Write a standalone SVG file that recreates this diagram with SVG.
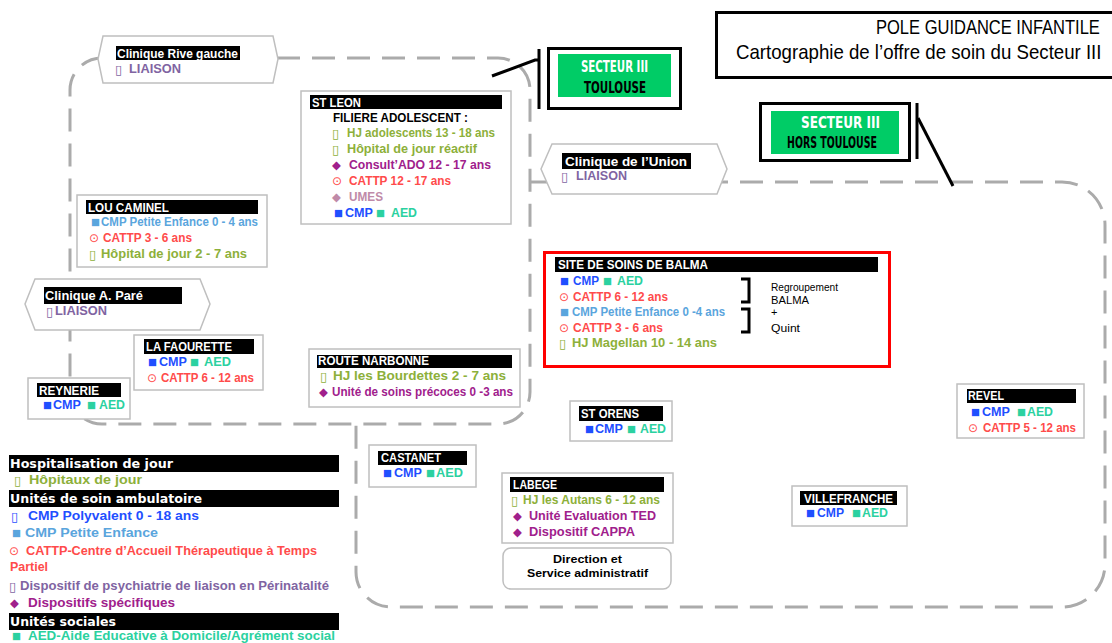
<svg xmlns="http://www.w3.org/2000/svg" width="1112" height="643" viewBox="0 0 1112 643">
<style>
.reg{fill:none;stroke:#ABABAB;stroke-width:3;stroke-dasharray:23 12}
.box{fill:#fff;stroke:#BFBFBF;stroke-width:1.5}
.hex{fill:#fff;stroke:#BFBFBF;stroke-width:1.5}
.hdr{fill:#000}
.conn{fill:none;stroke:#000;stroke-width:3}
text{font-family:"Liberation Sans",Arial,sans-serif;font-weight:bold;font-size:12px}
.ht{fill:#fff;font-size:12.5px}
.sq,.di,.ci,.tf{font-family:"DejaVu Sans",sans-serif;font-weight:normal}
.sq{font-size:9.5px}.di{font-size:11.5px}.ci{font-size:12px}.tf{font-size:13px}
.cmp{fill:#1F4FFF}.aed{fill:#2BD1A0}.pe{fill:#5AA5DD}.cat{fill:#FF4B4B}.hj{fill:#8DB03A}.dis{fill:#A0208C}.lia{fill:#8064A2}.umes{fill:#C08AA8}
.lg{font-size:13px}
.lh{font-family:"DejaVu Sans",sans-serif;font-size:13px;fill:#fff}
.nar{font-family:"Liberation Sans Narrow","DejaVu Sans Condensed",sans-serif;font-size:15px}
.ttl{font-weight:normal;font-size:20px}
.sm{font-weight:normal;font-size:11px}
</style>

<g id="regions">
<rect class="reg" x="70" y="58" width="460" height="366" rx="32"/>
<path class="reg" d="M530 182 H1062 A43 43 0 0 1 1105 225 V564 A43 43 0 0 1 1062 607 H391 A35 35 0 0 1 356 572 V425"/>
</g>

<g id="connectors">
<path class="conn" d="M492 76 L535 60 H540"/>
<path class="conn" d="M539 49 V109"/>
<path class="conn" d="M917 103 V159"/>
<path class="conn" d="M918 118 L953 186"/>
</g>

<g id="title">
<rect x="716.5" y="12.5" width="420" height="65" fill="#fff" stroke="#000" stroke-width="3"/>
<text class="ttl" transform="matrix(0.82 0 0 1 876 34)" x="0" y="0" textLength="273" lengthAdjust="spacingAndGlyphs">POLE GUIDANCE INFANTILE</text>
<text class="ttl" transform="matrix(0.93 0 0 1 736 59)" x="0" y="0" textLength="393" lengthAdjust="spacingAndGlyphs">Cartographie de l’offre de soin du Secteur III</text>
</g>

<g id="secteur-toulouse">
<rect x="548.5" y="48.5" width="132" height="60" fill="#fff" stroke="#000" stroke-width="3"/>
<rect x="558" y="54" width="113" height="43" fill="#00CC66"/>
<text class="nar ht" x="581" y="72" textLength="67" lengthAdjust="spacingAndGlyphs">SECTEUR III</text>
<text class="nar" x="584" y="93" textLength="62" lengthAdjust="spacingAndGlyphs">TOULOUSE</text>
</g>

<g id="secteur-hors-toulouse">
<rect x="760.5" y="103.5" width="149" height="57" fill="#fff" stroke="#000" stroke-width="3"/>
<rect x="771" y="111" width="128" height="43" fill="#00CC66"/>
<text class="nar ht" x="801" y="128" textLength="79" lengthAdjust="spacingAndGlyphs">SECTEUR III</text>
<text class="nar" x="787" y="148" textLength="90" lengthAdjust="spacingAndGlyphs">HORS TOULOUSE</text>
</g>

<g id="clinique-rive-gauche">
<polygon class="hex" points="103,36 273,36 278,59 273,83 103,83 98,59"/>
<rect class="hdr" x="116" y="46" width="124" height="14"/>
<text class="ht" x="117" y="58" textLength="121" lengthAdjust="spacingAndGlyphs">Clinique Rive gauche</text>
<text class="tf lia" x="115" y="74">▯</text>
<text class="lia" x="129" y="73" textLength="52" lengthAdjust="spacingAndGlyphs">LIAISON</text>
</g>

<g id="st-leon">
<rect class="box" x="301" y="91" width="210" height="133"/>
<rect class="hdr" x="310" y="95" width="192" height="14"/>
<text class="ht" x="312" y="107" textLength="49" lengthAdjust="spacingAndGlyphs">ST LEON</text>
<text x="333" y="122" textLength="135" lengthAdjust="spacingAndGlyphs">FILIERE ADOLESCENT :</text>
<text class="tf hj" x="332" y="138">▯</text>
<text class="hj" x="347" y="137" textLength="148" lengthAdjust="spacingAndGlyphs">HJ adolescents 13 - 18 ans</text>
<text class="tf hj" x="332" y="154">▯</text>
<text class="hj" x="347" y="153" textLength="130" lengthAdjust="spacingAndGlyphs">Hôpital de jour réactif</text>
<text class="di dis" x="332" y="169">◆</text>
<text class="dis" x="349" y="169" textLength="142" lengthAdjust="spacingAndGlyphs">Consult’ADO 12 - 17 ans</text>
<text class="ci cat" x="332" y="185">⊙</text>
<text class="cat" x="349" y="185" textLength="102" lengthAdjust="spacingAndGlyphs">CATTP 12 - 17 ans</text>
<text class="di umes" x="332" y="201">◆</text>
<text class="umes" x="349" y="201" textLength="34" lengthAdjust="spacingAndGlyphs">UMES</text>
<text class="sq cmp" x="334" y="216">■</text>
<text class="cmp" x="345" y="217" textLength="28" lengthAdjust="spacingAndGlyphs">CMP</text>
<text class="sq aed" x="376" y="216">■</text>
<text class="aed" x="391" y="217" textLength="26" lengthAdjust="spacingAndGlyphs">AED</text>
</g>

<g id="clinique-union">
<polygon class="hex" points="552,144 717,144 727,169 717,194 552,194 541,169"/>
<rect class="hdr" x="562" y="153" width="129" height="16"/>
<text class="ht" x="565" y="166" textLength="122" lengthAdjust="spacingAndGlyphs">Clinique de l’Union</text>
<text class="tf lia" x="561" y="181">▯</text>
<text class="lia" x="576" y="180" textLength="51" lengthAdjust="spacingAndGlyphs">LIAISON</text>
</g>

<g id="lou-caminel">
<rect class="box" x="77" y="195" width="190" height="72"/>
<rect class="hdr" x="86" y="200" width="172" height="14"/>
<text class="ht" x="88" y="212" textLength="81" lengthAdjust="spacingAndGlyphs">LOU CAMINEL</text>
<text class="sq pe" x="91" y="225">■</text>
<text class="pe" x="101" y="226" textLength="157" lengthAdjust="spacingAndGlyphs">CMP Petite Enfance 0 - 4 ans</text>
<text class="ci cat" x="89" y="242">⊙</text>
<text class="cat" x="103" y="242" textLength="89" lengthAdjust="spacingAndGlyphs">CATTP 3 - 6 ans</text>
<text class="tf hj" x="89" y="259">▯</text>
<text class="hj" x="101" y="258" textLength="146" lengthAdjust="spacingAndGlyphs">Hôpital de jour 2 - 7 ans</text>
</g>

<g id="clinique-pare">
<polygon class="hex" points="35,279 200,279 210,304 200,330 35,330 25,304"/>
<rect class="hdr" x="44" y="287" width="138" height="17"/>
<text class="ht" x="45" y="300" textLength="98" lengthAdjust="spacingAndGlyphs">Clinique A. Paré</text>
<text class="tf lia" x="46" y="316">▯</text>
<text class="lia" x="55" y="315" textLength="52" lengthAdjust="spacingAndGlyphs">LIAISON</text>
</g>

<g id="la-faourette">
<rect class="box" x="134" y="335" width="129" height="55"/>
<rect class="hdr" x="144" y="339" width="110" height="15"/>
<text class="ht" x="146" y="351" textLength="86" lengthAdjust="spacingAndGlyphs">LA FAOURETTE</text>
<text class="sq cmp" x="148" y="365">■</text>
<text class="cmp" x="159" y="366" textLength="28" lengthAdjust="spacingAndGlyphs">CMP</text>
<text class="sq aed" x="190" y="365">■</text>
<text class="aed" x="204" y="366" textLength="27" lengthAdjust="spacingAndGlyphs">AED</text>
<text class="ci cat" x="147" y="382">⊙</text>
<text class="cat" x="161" y="382" textLength="93" lengthAdjust="spacingAndGlyphs">CATTP 6 - 12 ans</text>
</g>

<g id="reynerie">
<rect class="box" x="28" y="378" width="102" height="41"/>
<rect class="hdr" x="37" y="383" width="84" height="14"/>
<text class="ht" x="39" y="395" textLength="60" lengthAdjust="spacingAndGlyphs">REYNERIE</text>
<text class="sq cmp" x="43" y="408">■</text>
<text class="cmp" x="53" y="409" textLength="28" lengthAdjust="spacingAndGlyphs">CMP</text>
<text class="sq aed" x="87" y="408">■</text>
<text class="aed" x="99" y="409" textLength="26" lengthAdjust="spacingAndGlyphs">AED</text>
</g>

<g id="route-narbonne">
<rect class="box" x="309" y="349" width="211" height="58"/>
<rect class="hdr" x="317" y="355" width="195" height="13"/>
<text class="ht" x="318" y="365" textLength="111" lengthAdjust="spacingAndGlyphs">ROUTE NARBONNE</text>
<text class="tf hj" x="320" y="381">▯</text>
<text class="hj" x="333" y="380" textLength="173" lengthAdjust="spacingAndGlyphs">HJ les Bourdettes 2 - 7 ans</text>
<text class="di dis" x="319" y="396">◆</text>
<text class="dis" x="332" y="396" textLength="181" lengthAdjust="spacingAndGlyphs">Unité de soins précoces 0 -3 ans</text>
</g>

<g id="site-balma">
<rect x="544.5" y="252.5" width="345" height="114" fill="#fff" stroke="#FF0000" stroke-width="3"/>
<rect class="hdr" x="555" y="257" width="323" height="15"/>
<text class="ht" x="558" y="269" textLength="150" lengthAdjust="spacingAndGlyphs">SITE DE SOINS DE BALMA</text>
<text class="sq cmp" x="560" y="284">■</text>
<text class="cmp" x="573" y="285" textLength="26" lengthAdjust="spacingAndGlyphs">CMP</text>
<text class="sq aed" x="603" y="284">■</text>
<text class="aed" x="617" y="285" textLength="26" lengthAdjust="spacingAndGlyphs">AED</text>
<text class="ci cat" x="559" y="301">⊙</text>
<text class="cat" x="573" y="301" textLength="95" lengthAdjust="spacingAndGlyphs">CATTP 6 - 12 ans</text>
<text class="sq pe" x="560" y="315">■</text>
<text class="pe" x="572" y="316" textLength="153" lengthAdjust="spacingAndGlyphs">CMP Petite Enfance 0 -4 ans</text>
<text class="ci cat" x="559" y="332">⊙</text>
<text class="cat" x="573" y="332" textLength="90" lengthAdjust="spacingAndGlyphs">CATTP 3 - 6 ans</text>
<text class="tf hj" x="559" y="348">▯</text>
<text class="hj" x="572" y="347" textLength="145" lengthAdjust="spacingAndGlyphs">HJ Magellan 10 - 14 ans</text>
<path d="M741 279 H749 V302 H741 M741 309 H749 V332 H741" fill="none" stroke="#000" stroke-width="3"/>
<text class="sm" x="771" y="291" textLength="67" lengthAdjust="spacingAndGlyphs">Regroupement</text>
<text class="sm" x="771" y="304" textLength="38" lengthAdjust="spacingAndGlyphs">BALMA</text>
<text class="sm" x="771" y="316">+</text>
<text class="sm" x="771" y="332" textLength="29" lengthAdjust="spacingAndGlyphs">Quint</text>
</g>

<g id="st-orens">
<rect class="box" x="570" y="401" width="102" height="40"/>
<rect class="hdr" x="579" y="406" width="84" height="15"/>
<text class="ht" x="581" y="418" textLength="58" lengthAdjust="spacingAndGlyphs">ST ORENS</text>
<text class="sq cmp" x="585" y="432">■</text>
<text class="cmp" x="595" y="433" textLength="28" lengthAdjust="spacingAndGlyphs">CMP</text>
<text class="sq aed" x="627" y="432">■</text>
<text class="aed" x="640" y="433" textLength="26" lengthAdjust="spacingAndGlyphs">AED</text>
</g>

<g id="castanet">
<rect class="box" x="369" y="445" width="107" height="42"/>
<rect class="hdr" x="378" y="451" width="89" height="14"/>
<text class="ht" x="381" y="462" textLength="60" lengthAdjust="spacingAndGlyphs">CASTANET</text>
<text class="sq cmp" x="383" y="476">■</text>
<text class="cmp" x="394" y="477" textLength="28" lengthAdjust="spacingAndGlyphs">CMP</text>
<text class="sq aed" x="426" y="476">■</text>
<text class="aed" x="436" y="477" textLength="27" lengthAdjust="spacingAndGlyphs">AED</text>
</g>

<g id="labege">
<rect class="box" x="502" y="473" width="171" height="70"/>
<rect class="hdr" x="510" y="477" width="154" height="15"/>
<text class="ht" x="513" y="489" textLength="44" lengthAdjust="spacingAndGlyphs">LABEGE</text>
<text class="tf hj" x="511" y="505">▯</text>
<text class="hj" x="523" y="504" textLength="137" lengthAdjust="spacingAndGlyphs">HJ les Autans 6 - 12 ans</text>
<text class="di dis" x="513" y="520">◆</text>
<text class="dis" x="529" y="520" textLength="127" lengthAdjust="spacingAndGlyphs">Unité Evaluation TED</text>
<text class="di dis" x="513" y="536">◆</text>
<text class="dis" x="529" y="536" textLength="106" lengthAdjust="spacingAndGlyphs">Dispositif CAPPA</text>
</g>

<g id="direction">
<rect x="503" y="548" width="168" height="41" rx="8" fill="#fff" stroke="#BFBFBF" stroke-width="1.5"/>
<text x="553" y="563" style="font-size:11.5px" textLength="69" lengthAdjust="spacingAndGlyphs">Direction et</text>
<text x="527" y="577" style="font-size:11.5px" textLength="121" lengthAdjust="spacingAndGlyphs">Service administratif</text>
</g>

<g id="revel">
<rect class="box" x="957" y="384" width="127" height="54"/>
<rect class="hdr" x="967" y="389" width="109" height="14"/>
<text class="ht" x="968" y="400" textLength="36" lengthAdjust="spacingAndGlyphs">REVEL</text>
<text class="sq cmp" x="971" y="415">■</text>
<text class="cmp" x="982" y="416" textLength="28" lengthAdjust="spacingAndGlyphs">CMP</text>
<text class="sq aed" x="1017" y="415">■</text>
<text class="aed" x="1027" y="416" textLength="26" lengthAdjust="spacingAndGlyphs">AED</text>
<text class="ci cat" x="968" y="432">⊙</text>
<text class="cat" x="983" y="432" textLength="93" lengthAdjust="spacingAndGlyphs">CATTP 5 - 12 ans</text>
</g>

<g id="villefranche">
<rect class="box" x="792" y="486" width="115" height="40"/>
<rect class="hdr" x="800" y="491" width="97" height="14"/>
<text class="ht" x="804" y="503" textLength="89" lengthAdjust="spacingAndGlyphs">VILLEFRANCHE</text>
<text class="sq cmp" x="806" y="516">■</text>
<text class="cmp" x="817" y="517" textLength="27" lengthAdjust="spacingAndGlyphs">CMP</text>
<text class="sq aed" x="852" y="516">■</text>
<text class="aed" x="862" y="517" textLength="26" lengthAdjust="spacingAndGlyphs">AED</text>
</g>

<g id="legend">
<rect class="hdr" x="9" y="455" width="330" height="17"/>
<text class="lh" x="10" y="468" textLength="163" lengthAdjust="spacingAndGlyphs">Hospitalisation de jour</text>
<text class="tf hj" x="14" y="485">▯</text>
<text class="lg hj" x="29" y="484" textLength="113" lengthAdjust="spacingAndGlyphs">Hôpitaux de jour</text>
<rect class="hdr" x="9" y="490" width="330" height="17"/>
<text class="lh" x="10" y="503" textLength="192" lengthAdjust="spacingAndGlyphs">Unités de soin ambulatoire</text>
<text class="tf cmp" x="11" y="521">▯</text>
<text class="lg cmp" x="28" y="520" textLength="171" lengthAdjust="spacingAndGlyphs">CMP Polyvalent 0 - 18 ans</text>
<text class="sq pe" x="12" y="536">■</text>
<text class="lg pe" x="25" y="537" textLength="133" lengthAdjust="spacingAndGlyphs">CMP Petite Enfance</text>
<text class="ci cat" x="9" y="555">⊙</text>
<text class="lg cat" x="26" y="555" textLength="291" lengthAdjust="spacingAndGlyphs">CATTP-Centre d’Accueil Thérapeutique à Temps</text>
<text class="lg cat" x="10" y="571" textLength="38" lengthAdjust="spacingAndGlyphs">Partiel</text>
<text class="tf lia" x="9" y="591">▯</text>
<text class="lg lia" x="20" y="590" textLength="309" lengthAdjust="spacingAndGlyphs">Dispositif de psychiatrie de liaison en Périnatalité</text>
<text class="di dis" x="10" y="607">◆</text>
<text class="lg dis" x="28" y="607" textLength="147" lengthAdjust="spacingAndGlyphs">Dispositifs spécifiques</text>
<rect class="hdr" x="9" y="613" width="330" height="17"/>
<text class="lh" x="10" y="626" textLength="106" lengthAdjust="spacingAndGlyphs">Unités sociales</text>
<text class="sq aed" x="12" y="639">■</text>
<text class="lg aed" x="28" y="640" style="font-size:12.5px" textLength="307" lengthAdjust="spacingAndGlyphs">AED-Aide Educative à Domicile/Agrément social</text>
</g>
</svg>
